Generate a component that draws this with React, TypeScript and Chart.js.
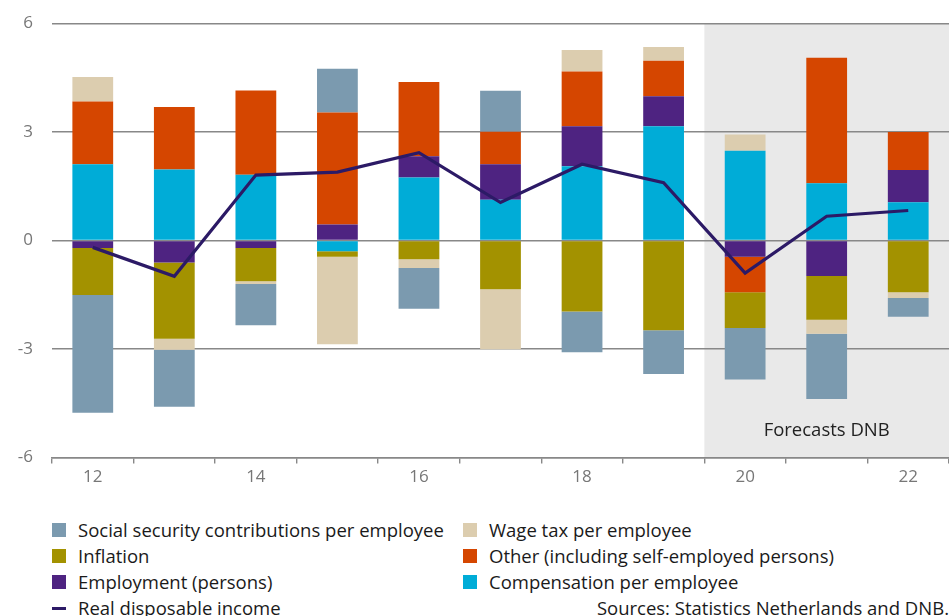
import React, { useEffect, useRef } from "react";
import { Chart, registerables } from "chart.js";

Chart.register(...registerables);

// ---- Data ----
const years = ["12", "13", "14", "15", "16", "17", "18", "19", "20", "21", "22"];
const compensation = [2.11, 1.96, 1.82, -0.3, 1.74, 1.13, 2.05, 3.16, 2.48, 1.58, 1.06];
const employment = [-0.21, -0.61, -0.21, 0.44, 0.59, 0.98, 1.11, 0.83, -0.45, -0.98, 0.89];
const other = [1.73, 1.73, 2.33, 3.1, 2.05, 0.9, 1.51, 0.98, -0.98, 3.47, 1.05];
const inflation = [-1.3, -2.11, -0.92, -0.15, -0.52, -1.35, -1.96, -2.48, -0.99, -1.21, -1.43];
const wageTax = [0.68, -0.3, -0.07, -2.42, -0.24, -1.66, 0.6, 0.38, 0.45, -0.39, -0.16];
const socialSecurity = [-3.25, -1.58, -1.14, 1.21, -1.13, 1.13, -1.13, -1.21, -1.42, -1.8, -0.52];
const realDisposableIncome = [-0.19, -0.99, 1.81, 1.89, 2.43, 1.05, 2.11, 1.6, -0.9, 0.67, 0.83];
const yTicks = [-6, -3, 0, 3, 6];
const forecastStartIndex = 8;
const forecastLabel = "Forecasts DNB";
const sourceText = "Sources: Statistics Netherlands and DNB.";

const COLORS = {
  ss: "#7B9AAF",
  wage: "#DCCDAF",
  infl: "#A39200",
  other: "#D54600",
  emp: "#4E2381",
  comp: "#00ACD7",
  line: "#2C1A66",
};

const FONT = "'Open Sans', sans-serif";

const legendItems = [
  { label: "Social security contributions per employee", color: COLORS.ss, type: "box" },
  { label: "Wage tax per employee", color: COLORS.wage, type: "box" },
  { label: "Inflation", color: COLORS.infl, type: "box" },
  { label: "Other (including self-employed persons)", color: COLORS.other, type: "box" },
  { label: "Employment (persons)", color: COLORS.emp, type: "box" },
  { label: "Compensation per employee", color: COLORS.comp, type: "box" },
  { label: "Real disposable income", color: COLORS.line, type: "line" },
];

const shadePlugin = {
  id: "forecastShade",
  beforeDraw(chart: any) {
    const { ctx, chartArea, scales } = chart;
    const x = scales.x;
    const left = (x.getPixelForValue(forecastStartIndex - 1) + x.getPixelForValue(forecastStartIndex)) / 2;
    ctx.save();
    ctx.fillStyle = "#E9E9E9";
    ctx.fillRect(left, chartArea.top, chartArea.right - left, chartArea.bottom - chartArea.top);
    ctx.restore();
  },
  afterDatasetsDraw(chart: any) {
    const { ctx, chartArea, scales } = chart;
    const x = scales.x;
    const left = (x.getPixelForValue(forecastStartIndex - 1) + x.getPixelForValue(forecastStartIndex)) / 2;
    ctx.save();
    ctx.fillStyle = "#222222";
    ctx.font = `18.5px ${FONT}`;
    ctx.textAlign = "center";
    ctx.textBaseline = "middle";
    ctx.fillText(forecastLabel, (left + chartArea.right) / 2, scales.y.getPixelForValue(-5.25));
    ctx.restore();
  },
};

function barDs(label: string, data: number[], color: string) {
  return {
    type: "bar" as const,
    label,
    data,
    backgroundColor: color,
    borderWidth: 0,
    stack: "bars",
    categoryPercentage: 1,
    barPercentage: 0.5,
    order: 2,
  };
}

export default function App() {
  const ref = useRef<HTMLCanvasElement | null>(null);
  useEffect(() => {
    if (!ref.current) return;
    const chart = new Chart(ref.current, {
      type: "bar",
      data: {
        labels: years,
        datasets: [
          barDs("Compensation per employee", compensation, COLORS.comp),
          barDs("Employment (persons)", employment, COLORS.emp),
          barDs("Other (including self-employed persons)", other, COLORS.other),
          barDs("Inflation", inflation, COLORS.infl),
          barDs("Wage tax per employee", wageTax, COLORS.wage),
          barDs("Social security contributions per employee", socialSecurity, COLORS.ss),
          {
            type: "line" as const,
            label: "Real disposable income",
            data: realDisposableIncome,
            borderColor: COLORS.line,
            backgroundColor: COLORS.line,
            borderWidth: 3.2,
            pointRadius: 0,
            tension: 0,
            stack: "line",
            order: 1,
          } as any,
        ],
      },
      options: {
        animation: false,
        responsive: false,
        maintainAspectRatio: false,
        layout: { padding: { top: 23.5, left: 0, right: 0, bottom: 0 } },
        plugins: { legend: { display: false }, tooltip: { enabled: false } },
        scales: {
          x: {
            stacked: true,
            grid: {
              offset: true,
              drawOnChartArea: false,
              drawTicks: true,
              tickLength: 6,
              color: "#888888",
              lineWidth: 1.4,
            },
            border: { display: true, color: "#888888", width: 1.4 },
            ticks: {
              autoSkip: false,
              maxRotation: 0,
              color: "#777777",
              padding: 3,
              font: { family: FONT, size: 17 },
              callback: (_v: any, i: number) => (i % 2 === 0 ? years[i] : ""),
            },
            afterFit: (s: any) => {
              s.height = 37.5;
            },
          },
          y: {
            stacked: true,
            min: -6,
            max: 6,
            afterBuildTicks: (s: any) => {
              s.ticks = yTicks.map((v) => ({ value: v }));
            },
            grid: { color: "#888888", lineWidth: 1.4, drawTicks: false },
            border: { display: false },
            ticks: {
              color: "#777777",
              padding: 19,
              font: { family: FONT, size: 17 },
            },
            afterFit: (s: any) => {
              s.width = 52;
              s.paddingTop = 10;
              s.paddingBottom = 10;
            },
          },
        },
      },
      plugins: [shadePlugin],
    });
    return () => chart.destroy();
  }, []);

  const rowY = [530, 556, 582, 608];
  return (
    <div style={{ position: "fixed", left: 0, top: 0, width: 949, height: 616, background: "#fff", overflow: "hidden" }}>
      <canvas ref={ref} width={949} height={495} style={{ position: "absolute", left: 0, top: 0, width: 949, height: 495 }} />
      {legendItems.map((it, i) => {
        const col = i % 2;
        const row = Math.floor(i / 2);
        const sx = col === 0 ? 52 : 463;
        const tx = col === 0 ? 78 : 489;
        const cy = rowY[row];
        return (
          <React.Fragment key={it.label}>
            {it.type === "box" ? (
              <div style={{ position: "absolute", left: sx, top: cy - 7, width: 14, height: 14, background: it.color }} />
            ) : (
              <div style={{ position: "absolute", left: sx, top: cy - 1.5, width: 14, height: 3, background: it.color }} />
            )}
            <div
              style={{
                position: "absolute",
                left: tx,
                top: cy - 13,
                height: 26,
                lineHeight: "26px",
                fontFamily: FONT,
                fontSize: 18.5,
                color: "#1a1a1a",
                whiteSpace: "nowrap",
              }}
            >
              {it.label}
            </div>
          </React.Fragment>
        );
      })}
      <div
        style={{
          position: "absolute",
          right: 0,
          top: rowY[3] - 13,
          height: 26,
          lineHeight: "26px",
          fontFamily: FONT,
          fontSize: 18.5,
          color: "#1a1a1a",
          whiteSpace: "nowrap",
        }}
      >
        {sourceText}
      </div>
    </div>
  );
}
